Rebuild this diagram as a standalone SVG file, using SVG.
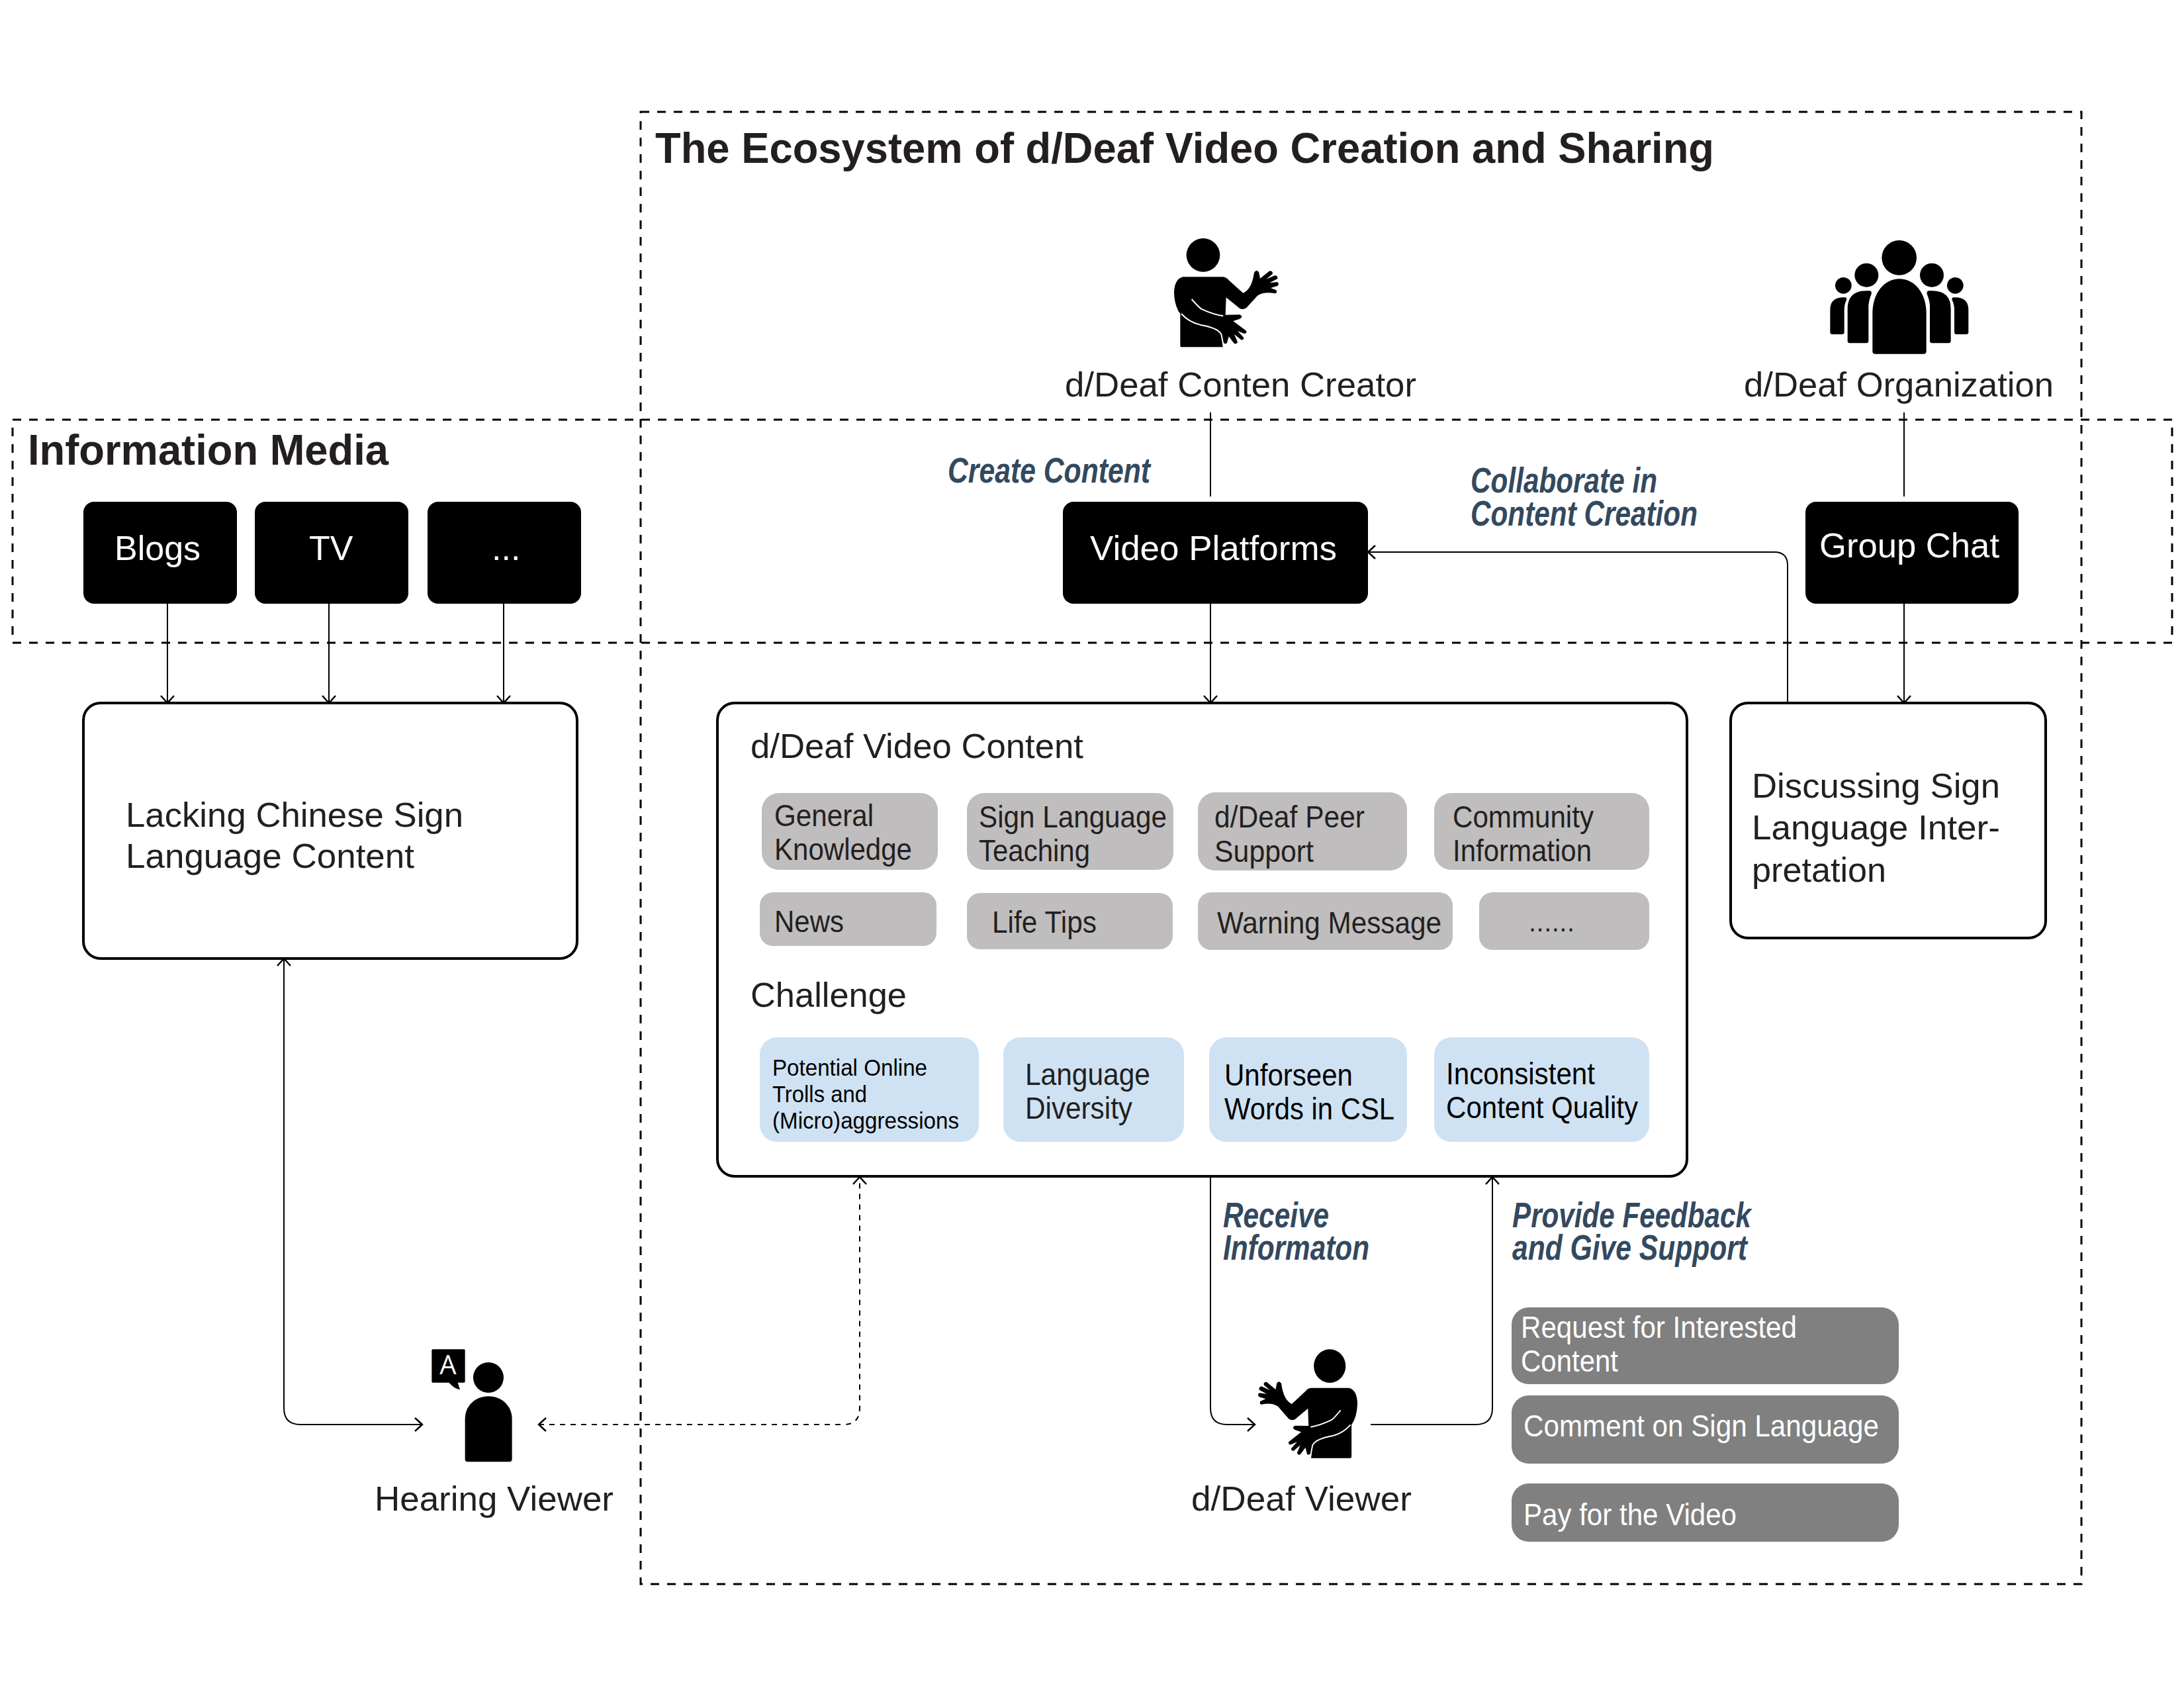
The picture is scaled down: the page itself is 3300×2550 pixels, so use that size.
<svg xmlns="http://www.w3.org/2000/svg" width="3300" height="2550" viewBox="0 0 3300 2550">
<style>
text{font-family:"Liberation Sans",Arial,sans-serif;fill:#231f20}
.h{font-weight:700;font-size:64px}
.t{font-size:52px}
.m{font-size:46px}
.k{font-size:52px;fill:#fff}
.w{fill:#fff}
.b{fill:#000}
.g{fill:#bfbdbe}
.c{fill:#cfe2f3}
.d{fill:#808080}
.l{font-weight:700;font-style:italic;font-size:53px;fill:#33495e}
.box{fill:#fff;stroke:#000;stroke-width:4}
.dash{fill:none;stroke:#000;stroke-width:3;stroke-dasharray:13 12}
.ln{fill:none;stroke:#000;stroke-width:2}
.dl{fill:none;stroke:#000;stroke-width:2;stroke-dasharray:8 8}
</style>
<defs>
<marker id="a" markerUnits="userSpaceOnUse" markerWidth="24" markerHeight="24" refX="19" refY="12" orient="auto-start-reverse"><path d="M8 2L19 12L8 22" fill="none" stroke="#000" stroke-width="2.5"/></marker>
<path id="signer" d="M262 265H440Q458 265 470 280L535 338Q575 320 585 245Q597 228 607 245L612 272L655 238Q672 238 668 252L640 275L680 258Q695 262 690 274L655 292L690 288Q702 297 690 306L660 315L685 325Q692 338 680 340Q630 330 600 350L550 405Q535 415 520 408L458 358L455 437L520 436Q538 445 520 455L490 465L550 510Q552 522 540 522L510 510L538 540Q538 552 526 550L495 525L510 560Q505 572 494 566L470 535L462 565Q450 572 445 560L445 583H255Q250 583 250 575V432Q225 400 222 340Q222 275 262 265Z"/>
</defs>
<g id="frames">
<rect class="dash" x="968" y="169" width="2177" height="2224"/>
<rect class="dash" x="19" y="634" width="3263" height="337"/>
<text class="h" x="990" y="246" textLength="1600" lengthAdjust="spacingAndGlyphs">The Ecosystem of d/Deaf Video Creation and Sharing</text>
<text class="h" x="42" y="702" textLength="545" lengthAdjust="spacingAndGlyphs">Information Media</text>
</g>
<g id="connectors">
<path class="ln" marker-end="url(#a)" d="M253 912V1062"/>
<path class="ln" marker-end="url(#a)" d="M497 912V1062"/>
<path class="ln" marker-end="url(#a)" d="M761 912V1062"/>
<path class="ln" d="M1829 623V750"/>
<path class="ln" marker-end="url(#a)" d="M1829 912V1062"/>
<path class="ln" d="M2877 623V750"/>
<path class="ln" marker-end="url(#a)" d="M2877 912V1062"/>
<path class="ln" marker-end="url(#a)" d="M2701 1062V854Q2701 834 2681 834H2067"/>
<path class="ln" marker-start="url(#a)" marker-end="url(#a)" d="M429 1448V2127Q429 2152 454 2152H638"/>
<path class="dl" marker-start="url(#a)" marker-end="url(#a)" d="M814 2152H1275Q1299 2152 1299 2127V1778"/>
<path class="ln" marker-end="url(#a)" d="M1829 1778V2127Q1829 2152 1854 2152H1896"/>
<path class="ln" marker-end="url(#a)" d="M2071 2152H2230Q2255 2152 2255 2127V1778"/>
</g>
<g id="node-blogs"><rect class="b" x="126" y="758" width="232" height="154" rx="16"/><text class="k" x="173" y="846">Blogs</text></g>
<g id="node-tv"><rect class="b" x="385" y="758" width="232" height="154" rx="16"/><text class="k" x="467" y="846">TV</text></g>
<g id="node-more"><rect class="b" x="646" y="758" width="232" height="154" rx="16"/><text class="k" x="743" y="846">...</text></g>
<g id="node-platforms"><rect class="b" x="1606" y="758" width="461" height="154" rx="16"/><text class="k" x="1647" y="846" textLength="373" lengthAdjust="spacingAndGlyphs">Video Platforms</text></g>
<g id="node-groupchat"><rect class="b" x="2728" y="758" width="322" height="154" rx="16"/><text class="k" x="2749" y="842" textLength="272" lengthAdjust="spacingAndGlyphs">Group Chat</text></g>
<g id="node-lacking"><rect class="box" x="126" y="1062" width="746" height="386" rx="26"/><text class="t" x="190" y="1249" textLength="510" lengthAdjust="spacingAndGlyphs">Lacking Chinese Sign</text><text class="t" x="190" y="1311" textLength="436" lengthAdjust="spacingAndGlyphs">Language Content</text></g>
<g id="node-discussing"><rect class="box" x="2615" y="1062" width="476" height="355" rx="26"/><text class="t" x="2647" y="1205" textLength="375" lengthAdjust="spacingAndGlyphs">Discussing Sign</text><text class="t" x="2647" y="1268" textLength="375" lengthAdjust="spacingAndGlyphs">Language Inter-</text><text class="t" x="2647" y="1332" textLength="203" lengthAdjust="spacingAndGlyphs">pretation</text></g>
<g id="node-content">
<rect class="box" x="1084" y="1062" width="1465" height="715" rx="26"/>
<text class="t" x="1134" y="1145" textLength="503" lengthAdjust="spacingAndGlyphs">d/Deaf Video Content</text>
<text class="t" x="1134" y="1521" textLength="236" lengthAdjust="spacingAndGlyphs">Challenge</text>
<rect class="g" x="1151" y="1198" width="266" height="116" rx="26"/><text class="m" x="1170" y="1248" textLength="150" lengthAdjust="spacingAndGlyphs">General</text><text class="m" x="1170" y="1299" textLength="208" lengthAdjust="spacingAndGlyphs">Knowledge</text>
<rect class="g" x="1461" y="1198" width="312" height="116" rx="26"/><text class="m" x="1479" y="1250" textLength="284" lengthAdjust="spacingAndGlyphs">Sign Language</text><text class="m" x="1479" y="1301" textLength="168" lengthAdjust="spacingAndGlyphs">Teaching</text>
<rect class="g" x="1810" y="1197" width="316" height="118" rx="26"/><text class="m" x="1835" y="1250" textLength="227" lengthAdjust="spacingAndGlyphs">d/Deaf Peer</text><text class="m" x="1835" y="1302" textLength="150" lengthAdjust="spacingAndGlyphs">Support</text>
<rect class="g" x="2167" y="1198" width="325" height="116" rx="26"/><text class="m" x="2195" y="1250" textLength="213" lengthAdjust="spacingAndGlyphs">Community</text><text class="m" x="2195" y="1301" textLength="210" lengthAdjust="spacingAndGlyphs">Information</text>
<rect class="g" x="1148" y="1348" width="267" height="81" rx="20"/><text class="m" x="1170" y="1408" textLength="105" lengthAdjust="spacingAndGlyphs">News</text>
<rect class="g" x="1461" y="1349" width="311" height="85" rx="20"/><text class="m" x="1499" y="1409" textLength="158" lengthAdjust="spacingAndGlyphs">Life Tips</text>
<rect class="g" x="1810" y="1348" width="385" height="87" rx="20"/><text class="m" x="1839" y="1410" textLength="339" lengthAdjust="spacingAndGlyphs">Warning Message</text>
<rect class="g" x="2235" y="1348" width="257" height="87" rx="20"/><text class="m" x="2310" y="1407" textLength="69" style="font-size:40px">......</text>
<rect class="c" x="1148" y="1567" width="331" height="158" rx="26"/><text style="font-size:35px;fill:#000" x="1167" y="1625" textLength="234" lengthAdjust="spacingAndGlyphs">Potential Online</text><text style="font-size:35px;fill:#000" x="1167" y="1665" textLength="143" lengthAdjust="spacingAndGlyphs">Trolls and</text><text style="font-size:35px;fill:#000" x="1167" y="1705" textLength="282" lengthAdjust="spacingAndGlyphs">(Micro)aggressions</text>
<rect class="c" x="1516" y="1567" width="273" height="158" rx="26"/><text class="m" x="1549" y="1639" textLength="189" lengthAdjust="spacingAndGlyphs">Language</text><text class="m" x="1549" y="1690" textLength="162" lengthAdjust="spacingAndGlyphs">Diversity</text>
<rect class="c" x="1827" y="1567" width="299" height="158" rx="26"/><text class="m" style="fill:#000" x="1850" y="1640" textLength="194" lengthAdjust="spacingAndGlyphs">Unforseen</text><text class="m" style="fill:#000" x="1850" y="1691" textLength="257" lengthAdjust="spacingAndGlyphs">Words in CSL</text>
<rect class="c" x="2167" y="1567" width="325" height="158" rx="26"/><text class="m" style="fill:#000" x="2185" y="1638" textLength="225" lengthAdjust="spacingAndGlyphs">Inconsistent</text><text class="m" style="fill:#000" x="2185" y="1689" textLength="290" lengthAdjust="spacingAndGlyphs">Content Quality</text>
</g>
<g id="node-creator">
<g transform="translate(1700 330) scale(.3333)"><circle cx="354" cy="166" r="76"/><use href="#signer"/><path d="M302 366Q340 410 350 412Q400 435 445 442M255 432Q290 470 340 482Q420 495 436 525Q442 550 446 582" fill="none" stroke="#fff" stroke-width="6"/></g>
<text class="t" x="1609" y="599" textLength="531" lengthAdjust="spacingAndGlyphs">d/Deaf Conten Creator</text>
</g>
<g id="node-organization">
<g transform="translate(2720 340) scale(.3333)">
<circle cx="449" cy="148" r="79"/><circle cx="301" cy="227" r="54"/><circle cx="597" cy="227" r="54"/><circle cx="196" cy="274" r="37"/><circle cx="703" cy="274" r="37"/>
<path d="M328 400C328 310 380 244 450 244C520 244 572 310 572 400V572Q572 584 560 584H340Q328 584 328 572Z"/>
<path d="M215 380Q215 298 300 298H315Q327 300 322 315Q308 350 310 380V525Q310 535 300 535H225Q215 535 215 525Z"/>
<path d="M683 380Q683 298 598 298H583Q571 300 576 315Q590 350 588 380V525Q588 535 598 535H673Q683 535 683 525Z"/>
<path d="M136 385Q136 328 195 328H205Q213 330 210 340Q200 360 200 385V485Q200 495 190 495H146Q136 495 136 485Z"/>
<path d="M763 385Q763 328 704 328H694Q686 330 689 340Q699 360 699 385V485Q699 495 709 495H753Q763 495 763 485Z"/>
</g>
<text class="t" x="2635" y="599" textLength="468" lengthAdjust="spacingAndGlyphs">d/Deaf Organization</text>
</g>
<g id="node-hearing">
<g transform="translate(630 2002) scale(.3333)"><circle cx="324" cy="237" r="69"/><path d="M218 425C218 365 265 322 324 322C385 322 431 365 431 425V607Q431 619 419 619H230Q218 619 218 607Z"/><path d="M72 109H213Q218 109 218 114V255Q218 260 213 260H185L195 292Q170 288 145 260H72Q67 260 67 255V114Q67 109 72 109Z"/></g>
<text x="677" y="2076" text-anchor="middle" style="font-size:40px;fill:#fff;font-family:'Open Sans',sans-serif">A</text>
<text class="t" x="566" y="2282" textLength="361" lengthAdjust="spacingAndGlyphs">Hearing Viewer</text>
</g>
<g id="node-viewer">
<g transform="translate(1860 2002) scale(.3333)"><g transform="translate(784 19) scale(-.95 1)"><circle cx="354" cy="166" r="76"/><use href="#signer"/><path d="M302 366Q340 410 350 412Q400 435 445 442M255 432Q290 470 340 482Q420 495 436 525Q442 550 446 582" fill="none" stroke="#fff" stroke-width="6"/></g></g>
<text class="t" x="1800" y="2282" textLength="333" lengthAdjust="spacingAndGlyphs">d/Deaf Viewer</text>
</g>
<g id="node-actions">
<rect class="d" x="2284" y="1975" width="585" height="116" rx="26"/><text class="m w" x="2298" y="2021" textLength="417" lengthAdjust="spacingAndGlyphs">Request for Interested</text><text class="m w" x="2298" y="2072" textLength="147" lengthAdjust="spacingAndGlyphs">Content</text>
<rect class="d" x="2284" y="2108" width="585" height="103" rx="26"/><text class="m w" x="2302" y="2170" textLength="537" lengthAdjust="spacingAndGlyphs">Comment on Sign Language</text>
<rect class="d" x="2284" y="2241" width="585" height="88" rx="26"/><text class="m w" x="2302" y="2304" textLength="322" lengthAdjust="spacingAndGlyphs">Pay for the Video</text>
</g>
<g id="labels">
<text class="l" x="1432" y="729" textLength="306" lengthAdjust="spacingAndGlyphs">Create Content</text>
<text class="l" x="2222" y="744" textLength="282" lengthAdjust="spacingAndGlyphs">Collaborate in</text>
<text class="l" x="2222" y="794" textLength="343" lengthAdjust="spacingAndGlyphs">Content Creation</text>
<text class="l" x="1848" y="1854" textLength="160" lengthAdjust="spacingAndGlyphs">Receive</text>
<text class="l" x="1848" y="1903" textLength="221" lengthAdjust="spacingAndGlyphs">Informaton</text>
<text class="l" x="2285" y="1854" textLength="361" lengthAdjust="spacingAndGlyphs">Provide Feedback</text>
<text class="l" x="2285" y="1903" textLength="355" lengthAdjust="spacingAndGlyphs">and Give Support</text>
</g>
</svg>
